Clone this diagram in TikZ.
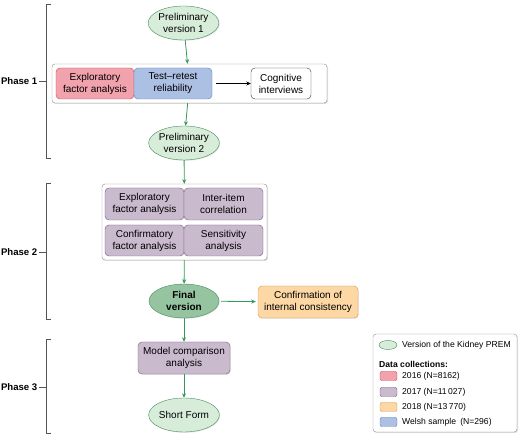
\documentclass[tikz,border=0pt]{standalone}
\usepackage{fontspec}
\setmainfont{Liberation Sans}
\usepackage{xcolor}
\usetikzlibrary{shapes.geometric,arrows.meta,shadows}
\definecolor{pgreen}{RGB}{216,236,218}
\definecolor{pdgreen}{RGB}{150,196,160}
\definecolor{pgline}{RGB}{70,140,95}
\definecolor{parrow}{RGB}{55,150,90}
\definecolor{pred}{RGB}{242,162,172}
\definecolor{predline}{RGB}{200,70,90}
\definecolor{pblue}{RGB}{172,192,228}
\definecolor{pblueline}{RGB}{95,125,185}
\definecolor{ppurple}{RGB}{202,186,206}
\definecolor{ppurpleline}{RGB}{115,90,120}
\definecolor{porange}{RGB}{253,216,164}
\definecolor{porangeline}{RGB}{220,150,85}
\definecolor{pgray}{RGB}{140,140,140}

\begin{document}
\begin{tikzpicture}[x=1pt,y=-1pt,font=\fontsize{10}{12}\selectfont]
  \tikzset{version/.style={draw=pgline,ellipse,fill=#1,inner sep=0pt,minimum width=70pt,minimum height=34pt,align=center,drop shadow={opacity=0.2,shadow xshift=0.8pt,shadow yshift=-0.8pt}},
    task box/.style={draw=#1line,fill=#1,rounded corners=4pt,align=center,inner sep=0pt,minimum width=78pt,minimum height=31pt},
    frame box/.style={draw=pgray,fill=white,rounded corners=3pt,drop shadow={opacity=0.25,shadow xshift=1pt,shadow yshift=-1pt}},
    flow/.style={draw=parrow,line width=0.8pt,-{Stealth[length=4.5pt,width=4pt]}},
    phase/.style={anchor=east,inner sep=0pt,font=\fontsize{9.6}{12}\selectfont\bfseries},
    swatch/.style={draw=#1line,fill=#1,rounded corners=2pt,minimum width=17pt,minimum height=9pt,inner sep=0pt},
    key/.style={right,inner sep=0pt,font=\fontsize{8.6}{10}\selectfont}}
  \useasboundingbox (0,0) rectangle (520,443);

  % phase 1
  \node [version = pgreen] (pre1) at (183.5,23) {Preliminary\\version 1};
  \node [frame box,minimum width=275pt,minimum height=39pt] (box1) at (189.5,83.5) {};
  \node [task box = pred] (efa1) at (95,83.5) {Exploratory\\factor analysis};
  \node [task box = pblue] (ttr) at (173,83.5) {Test–retest\\reliability};
  \node [draw=black!80,fill=white,rounded corners=4pt,align=center,inner sep=0pt,minimum width=60pt,minimum height=31pt] (cog) at (281,83.5) {Cognitive\\interviews};
  \node [version = pgreen] (pre2) at (184,143) {Preliminary\\version 2};

  % phase 2
  \node [frame box,minimum width=165pt,minimum height=76pt] (box2) at (184.5,222) {};
  \node [task box = ppurple,minimum width=79pt,minimum height=32pt] (efa2) at (144.5,204) {Exploratory\\factor analysis};
  \node [task box = ppurple,minimum width=79pt,minimum height=32pt] (iic) at (223.5,204) {Inter-item\\correlation};
  \node [task box = ppurple,minimum width=79pt] (cfa) at (144.5,240.5) {Confirmatory\\factor analysis};
  \node [task box = ppurple,minimum width=79pt] (sens) at (223.5,240.5) {Sensitivity\\analysis};
  \node [version = pdgreen,font=\fontsize{10}{12}\selectfont\bfseries] (final) at (184,301) {Final\\version};
  \node [task box = porange,minimum width=100pt,minimum height=32pt,drop shadow={opacity=0.2,shadow xshift=0.8pt,shadow yshift=-0.8pt}] (conf) at (308,302) {Confirmation of\\internal consistency};

  % phase 3
  \node [task box = ppurple,minimum width=92pt,minimum height=32pt,drop shadow={opacity=0.2,shadow xshift=0.8pt,shadow yshift=-0.8pt}] (model) at (184,358) {Model comparison\\analysis};
  \node [version = pgreen] (short) at (184,415) {Short Form};

  % connectors
  \draw [flow] (pre1) -- (box1);
  \draw [line width=0.7pt,-{Stealth[length=4.5pt,width=4pt]},shorten <=4pt] (ttr) -- (cog);
  \draw [flow] (box1) -- (pre2);
  \draw [flow] (pre2) -- (box2);
  \draw [flow] (box2) -- (final);
  \draw [flow,shorten <=2pt,shorten >=2pt] (final) -- (conf);
  \draw [flow] (final) -- (model);
  \draw [flow] (model) -- (short);

  % phase brackets
  \draw [pgray!60!black] (51,4) -- (46,4) -- (46,158) -- (51,158) (39,81) -- (46,81);
  \draw [pgray!60!black] (51,183) -- (46,183) -- (46,319) -- (51,319) (39,252) -- (46,252);
  \draw [pgray!60!black] (51,339) -- (46,339) -- (46,433) -- (51,433) (39,387) -- (46,387);
  \node [phase] (ph1) at (37.5,81) {Phase 1};
  \node [phase] (ph2) at (37.5,252) {Phase 2};
  \node [phase] (ph3) at (37.5,387) {Phase 3};

  % legend
  \node [frame box,minimum width=144pt,minimum height=98pt] (legend) at (445,383) {};
  \node [draw=pgline,ellipse,fill=pgreen,inner sep=0pt,minimum width=18pt,minimum height=9pt] (kver) at (388,345) {};
  \node [key] at (402,345) {Version of the Kidney PREM};
  \node [key,font=\fontsize{8.6}{10}\selectfont\bfseries] at (379,364) {Data collections:};
  \node [swatch = pred] (k16) at (388.5,376) {};
  \node [key] at (402,376) {2016 (N=8162)};
  \node [swatch = ppurple] (k17) at (388.5,392) {};
  \node [key] at (402,392) {2017 (N=11\,027)};
  \node [swatch = porange] (k18) at (388.5,407) {};
  \node [key] at (402,407) {2018 (N=13\,770)};
  \node [swatch = pblue] (kws) at (388.5,422) {};
  \node [key] at (402,422) {Welsh sample\enspace(N=296)};
\end{tikzpicture}
\end{document}
